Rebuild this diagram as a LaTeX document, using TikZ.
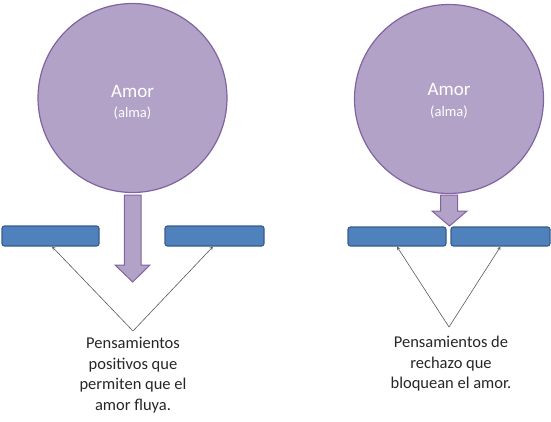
\documentclass[tikz,border=0pt]{standalone}
\usepackage{fontspec}
\setmainfont{Carlito}
\definecolor{lila}{HTML}{B3A2C7}
\definecolor{lilaborde}{HTML}{8064A2}
\definecolor{azul}{HTML}{4F81BD}
\definecolor{azulborde}{HTML}{385D8A}
\definecolor{gris}{HTML}{595959}
\tikzset{
  alma/.style={circle, fill=lila, draw=lilaborde, line width=1.2pt, inner sep=0pt, minimum size=189pt},
  barra/.style={rectangle, rounded corners=2.5pt, fill=azul, draw=azulborde, line width=1.2pt, inner sep=0pt, minimum height=20pt},
  flecha/.style={fill=lila, draw=lilaborde, line width=1pt, line join=miter},
  amor/.style={text=white, font=\fontsize{19}{21}\selectfont, inner sep=0pt},
  sub/.style={text=white, font=\fontsize{14.5}{16}\selectfont, inner sep=0pt},
  texto/.style={align=center, text=black!85, font=\fontsize{16.5}{20.5}\selectfont, inner sep=0pt},
  conector/.style={->, draw=gris, line width=.6pt}
}
\begin{document}
\begin{tikzpicture}[>=stealth, x=1pt, y=-1pt]
\useasboundingbox (0,0) rectangle (551,422);
% izquierda
\node[alma] (almaI) at (132.5,98) {};
\node[amor] (amorI) at (132.5,91) {Amor};
\node[sub] (subI) at (132.5,113) {(alma)};
\draw[flecha] (124.3,195)--(141,195)--(141,265)--(150,265)--(132.7,282)--(115,265)--(124.3,265)--cycle;
\node[barra, minimum width=97pt] (barraIa) at (50.5,236) {};
\node[barra, minimum width=99pt] (barraIb) at (214.5,236) {};
\node[texto, anchor=north] (textoI) at (133,337) {Pensamientos\\positivos que\\permiten que el\\amor fluya.};
\coordinate (vI) at (133,331);
\draw[conector] (vI)--([xshift=1.5pt]barraIa.south);
\draw[conector] (vI)--([xshift=-1.5pt]barraIb.south);
% derecha
\node[alma] (almaD) at (449,99) {};
\node[amor] (amorD) at (449,89) {Amor};
\node[sub] (subD) at (449,112) {(alma)};
\draw[flecha] (440.5,195)--(457.5,195)--(457.5,211)--(467,211)--(449.5,226)--(432,211)--(440.5,211)--cycle;
\node[barra, minimum width=98pt, minimum height=19pt] (barraDa) at (397,236.5) {};
\node[barra, minimum width=99pt, minimum height=19pt] (barraDb) at (500.5,236.5) {};
\node[texto, anchor=north] (textoD) at (451,336) {Pensamientos de\\rechazo que\\bloquean el amor.};
\coordinate (vD) at (449,327);
\draw[conector] (vD)--(barraDa.south);
\draw[conector] (vD)--(barraDb.south);
\end{tikzpicture}
\end{document}
